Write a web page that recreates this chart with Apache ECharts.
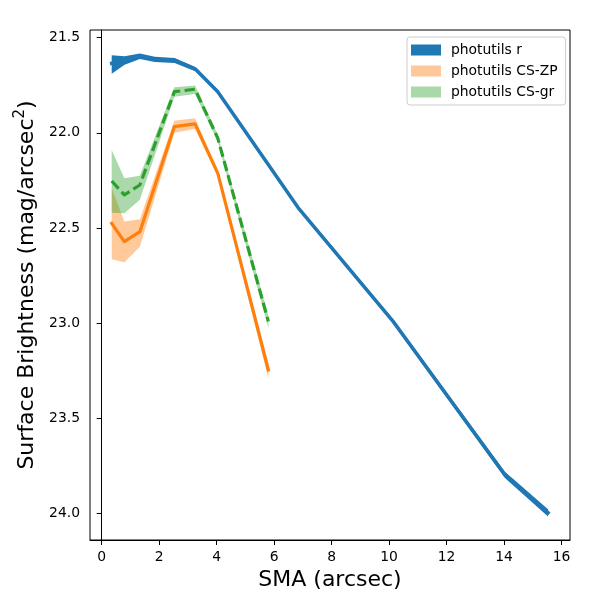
<!DOCTYPE html>
<html>
<head>
<meta charset="utf-8">
<script src="https://cdn.jsdelivr.net/npm/echarts@6/dist/echarts.min.js"></script>
<style>
html,body{margin:0;padding:0;background:#fff;}
#chart{width:600px;height:600px;}
</style>
</head>
<body>
<div id="chart"></div>
<script>
// ---- data ----
const xTicks = [0, 2, 4, 6, 8, 10, 12, 14, 16];
const yTicks = [21.5, 22.0, 22.5, 23.0, 23.5, 24.0];

const rSma   = [0.35, 0.80, 1.33, 1.85, 2.54, 3.26, 4.04, 6.84, 10.14, 14.03, 15.53];
const rMag   = [21.635, 21.62, 21.598, 21.613, 21.62, 21.665, 21.784, 22.394, 22.99, 23.795, 23.995];
const rLo    = [21.592, 21.598, 21.583, 21.600, 21.607, 21.654, 21.774, 22.384, 22.979, 23.780, 23.976];
const rHi    = [21.690, 21.642, 21.612, 21.628, 21.633, 21.677, 21.794, 22.404, 23.001, 23.812, 24.015];

const csSma  = [0.35, 0.79, 1.33, 2.53, 3.25, 4.04, 5.80];
const zpMag  = [22.475, 22.571, 22.519, 21.967, 21.953, 22.212, 23.245];
const zpLo   = [22.291, 22.466, 22.454, 21.936, 21.923, 22.200, 23.210];
const zpHi   = [22.664, 22.680, 22.598, 21.999, 21.980, 22.225, 23.290];

const grMag  = [22.253, 22.326, 22.274, 21.784, 21.771, 22.028, 22.990];
const grLo   = [22.090, 22.238, 22.225, 21.760, 21.752, 22.010, 22.960];
const grHi   = [22.419, 22.422, 22.352, 21.810, 21.796, 22.045, 23.025];

const seriesNames = ['photutils r', 'photutils CS-ZP', 'photutils CS-gr'];

// ---- chart ----
const FONT = 'DejaVu Sans';
const chart = echarts.init(document.getElementById('chart'), null, {renderer: 'canvas'});

function band(name, xs, lo, hi, fill) {
  return {
    type: 'custom',
    name: name,
    z: 1,
    silent: true,
    animation: false,
    clip: true,
    encode: {x: 0, y: [1, 2]},
    data: xs.map((x, i) => [x, lo[i], hi[i]]),
    renderItem: function (params, api) {
      if (params.dataIndex !== 0) return null;
      const pts = [];
      for (let i = 0; i < xs.length; i++) pts.push(api.coord([xs[i], lo[i]]));
      for (let i = xs.length - 1; i >= 0; i--) pts.push(api.coord([xs[i], hi[i]]));
      return {type: 'polygon', shape: {points: pts}, style: {fill: fill, stroke: null}};
    }
  };
}

function line(name, xs, ys, color, width, dash) {
  return {
    type: 'line',
    name: name,
    z: 3,
    silent: true,
    animation: false,
    showSymbol: false,
    symbol: 'none',
    data: xs.map((x, i) => [x, ys[i]]),
    lineStyle: {color: color, width: width, type: dash || 'solid', cap: dash ? 'butt' : 'square', join: 'round'},
    itemStyle: {color: color}
  };
}

const axisCommon = {
  axisLine: {show: true, lineStyle: {color: '#000', width: 1}},
  axisTick: {show: true, inside: false, length: 5, lineStyle: {color: '#000', width: 1}},
  splitLine: {show: false},
  axisLabel: {color: '#000', fontSize: 13.9, fontFamily: FONT, margin: 10}
};

chart.setOption({
  backgroundColor: '#fff',
  animation: false,
  grid: {left: 90, right: 30, top: 30, bottom: 60, show: true, borderColor: '#000', borderWidth: 1, backgroundColor: 'transparent'},
  legend: {
    left: 407, top: 37,
    orient: 'vertical',
    itemWidth: 30, itemHeight: 11, itemGap: 7,
    padding: [6, 8, 6, 4],
    borderColor: '#cccccc', borderWidth: 1, borderRadius: 3,
    backgroundColor: 'rgba(255,255,255,0.8)',
    textStyle: {color: '#000', fontSize: 13.9, fontFamily: FONT, padding: [0, 0, 0, 5]},
    selectedMode: false,
    data: [
      {name: seriesNames[0], icon: 'rect', itemStyle: {color: '#1f77b4', borderWidth: 0}},
      {name: seriesNames[1], icon: 'rect', itemStyle: {color: '#ffc89a', borderWidth: 0}},
      {name: seriesNames[2], icon: 'rect', itemStyle: {color: '#a9d8a9', borderWidth: 0}}
    ]
  },
  xAxis: Object.assign({}, axisCommon, {
    type: 'value', min: -0.405, max: 16.295,
    axisLabel: Object.assign({}, axisCommon.axisLabel, {customValues: xTicks}),
    axisTick: Object.assign({}, axisCommon.axisTick, {customValues: xTicks}),
    name: 'SMA (arcsec)', nameLocation: 'middle', nameGap: 27,
    nameTextStyle: {color: '#000', fontSize: 22, fontFamily: FONT}
  }),
  yAxis: Object.assign({}, axisCommon, {
    type: 'value', inverse: true, min: 21.46, max: 24.138,
    axisLabel: Object.assign({}, axisCommon.axisLabel, {customValues: yTicks, formatter: v => v.toFixed(1)}),
    axisTick: Object.assign({}, axisCommon.axisTick, {customValues: yTicks}),
    name: 'Surface Brightness (mag/arcsec{sup|2})', nameLocation: 'middle', nameGap: 46,
    nameTextStyle: {color: '#000', fontSize: 22, fontFamily: FONT,
      rich: {sup: {fontSize: 15, fontFamily: FONT, color: '#000', verticalAlign: 'top', lineHeight: 30}}}
  }),
  series: [
    band(seriesNames[0], rSma, rLo, rHi, '#1f77b4'),
    band(seriesNames[1], csSma, zpLo, zpHi, 'rgba(255,127,14,0.42)'),
    band(seriesNames[2], csSma, grLo, grHi, 'rgba(44,160,44,0.4)'),
    line('r line', rSma, rMag, '#1f77b4', 3.5),
    line('CS-ZP line', csSma, zpMag, '#ff7f0e', 3.2),
    line('CS-gr line', csSma, grMag, '#2ca02c', 3.2, [10.3, 4.4])
  ]
});
</script>
</body>
</html>
